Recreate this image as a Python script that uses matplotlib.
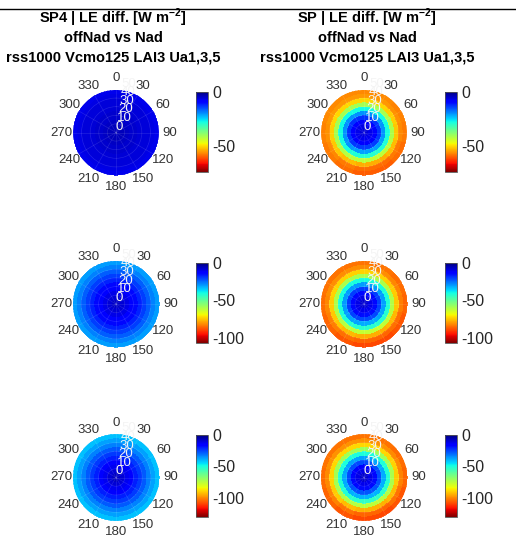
import numpy as np
import matplotlib
matplotlib.use("Agg")
import matplotlib.pyplot as plt
from matplotlib.lines import Line2D

plt.rcParams['font.family'] = ['Liberation Sans', 'DejaVu Sans']
plt.rcParams['mathtext.fontset'] = 'custom'
plt.rcParams['mathtext.rm'] = 'Liberation Sans'
plt.rcParams['mathtext.bf'] = 'Liberation Sans:bold'
plt.rcParams['axes.unicode_minus'] = False

# view zenith rings (deg) and azimuth sectors (deg)
vza_edges = [0, 5, 10, 15, 20, 25, 30, 35, 40, 45, 50]
az_centers = [0, 30, 60, 90, 120, 150, 180, 210, 240, 270, 300, 330]

# LE difference offNad - Nad per ring [W m-2], rows Ua1, Ua3, Ua5
sp4_ua1 = [-4, -4, -4.5, -5, -5, -5.5, -6, -6, -6.5, -7]
sp_ua1 = [-6, -7, -9, -13, -20, -28, -41, -51, -56, -57]
sp4_ua3 = [-7, -8, -10, -12, -14, -17, -20, -23, -27, -30]
sp_ua3 = [-8, -10, -14, -20, -30, -41, -60, -74, -82, -85]
sp4_ua5 = [-8, -10, -13, -16, -20, -24, -28, -33, -37, -41]
sp_ua5 = [-9, -12, -17, -26, -38, -51, -72, -90, -100, -104]

# azimuthal factor (SP gets a bit stronger towards the south)
gain_sp4 = [1.0, 1.0, 1.0, 1.0, 1.0, 1.0, 1.0, 1.0, 1.0, 1.0, 1.0, 1.0]
gain_sp = [0.99, 0.99, 1.0, 1.01, 1.03, 1.05, 1.05, 1.03, 1.01, 1.0, 0.99, 0.99]

row_vmin = [-74, -107, -131]
row_cticks = [[0, -50], [0, -50, -100], [0, -50, -100]]
angle_ticks = [0, 30, 60, 90, 120, 150, 180, 210, 240, 270, 300, 330]
r_ticks = [0, 10, 20, 30, 40, 50]

title_left = ["SP4 | LE diff. [W m$^{\\mathbf{-2}}$]", "offNad vs Nad", "rss1000 Vcmo125 LAI3 Ua1,3,5"]
title_right = ["SP | LE diff. [W m$^{\\mathbf{-2}}$]", "offNad vs Nad", "rss1000 Vcmo125 LAI3 Ua1,3,5"]

W, H = 516, 538
fig = plt.figure(figsize=(W / 100, H / 100), dpi=100)


def draw_panel(rect, cbar_rect, ring_vals, gain, vmin, ticks):
    ax = fig.add_axes(rect, projection='polar')
    th_edges = np.deg2rad(np.arange(0, 361, 2))
    th_mid = np.arange(1, 360, 2)
    sector = np.round(th_mid / 30).astype(int) % 12
    Z = np.outer(np.asarray(ring_vals), np.asarray(gain)[sector])
    mesh = ax.pcolormesh(th_edges, vza_edges, Z, cmap='jet_r', vmin=vmin, vmax=0,
                         shading='flat', rasterized=True)
    ax.set_theta_zero_location('N')
    ax.set_theta_direction(-1)
    ax.set_ylim(0, 50)
    ax.set_thetagrids(angle_ticks, labels=[''] * len(angle_ticks))
    # azimuth labels placed a bit outside the disc, like matlab
    for a in angle_ticks:
        ax.text(np.deg2rad(a), 63, str(a), ha='center', va='center',
                fontsize=9.5, color='#333333', clip_on=False)
    ax.set_rticks(r_ticks)
    ax.set_rlabel_position(7)
    ax.tick_params(axis='y', labelsize=9.5, colors='#f4f4f4')
    ax.grid(color='white', alpha=0.13, lw=0.5)
    ax.spines['polar'].set_visible(False)

    cax = fig.add_axes(cbar_rect)
    cb = fig.colorbar(mesh, cax=cax, ticks=ticks)
    cb.ax.tick_params(labelsize=11.5, length=0, pad=3, colors='#262626')
    cb.outline.set_edgecolor('#555555')
    cb.outline.set_linewidth(0.6)


# pixel boxes -> figure fractions
def frac(x0, y0, x1, y1):
    return [x0 / W, 1 - y1 / H, (x1 - x0) / W, (y1 - y0) / H]


polar_y = [(89.5, 175.5), (260.5, 347.5), (433.5, 521.5)]
cbar_y = [(92, 172), (263, 343), (435, 517)]
left_vals = [sp4_ua1, sp4_ua3, sp4_ua5]
right_vals = [sp_ua1, sp_ua3, sp_ua5]

for i in range(3):
    y0, y1 = polar_y[i]
    c0, c1 = cbar_y[i]
    draw_panel(frac(72.5, y0, 159.5, y1), frac(196, c0, 208, c1),
               left_vals[i], gain_sp4, row_vmin[i], row_cticks[i])
    draw_panel(frac(320.5, y0, 407.5, y1), frac(445, c0, 457, c1),
               right_vals[i], gain_sp, row_vmin[i], row_cticks[i])

# titles
for k, yy in enumerate([18, 38, 58]):
    fig.text(113 / W, 1 - yy / H, title_left[k], ha='center', va='center',
             fontsize=10.5, fontweight='bold')
    fig.text(367 / W, 1 - yy / H, title_right[k], ha='center', va='center',
             fontsize=10.5, fontweight='bold')

fig.add_artist(Line2D([0, 1], [1 - 8.5 / H] * 2, color='black', lw=1))

fig.savefig('out.png', dpi=100)
